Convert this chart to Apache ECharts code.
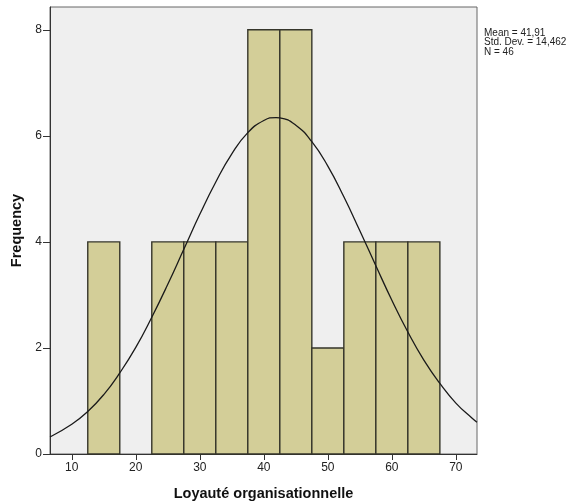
<!DOCTYPE html>
<html>
<head>
<meta charset="utf-8">
<script src="https://cdn.jsdelivr.net/npm/echarts@6/dist/echarts.min.js"></script>
<style>html,body{margin:0;padding:0;background:#fff;}#c{width:576px;height:504px;}</style>
</head>
<body>
<div id="c"></div>
<script>
// Histogram bins: [start, end]
const binStarts = [12.5, 22.5, 27.5, 32.5, 37.5, 42.5, 47.5, 52.5, 57.5, 62.5];
const binEnds   = [17.5, 27.5, 32.5, 37.5, 42.5, 47.5, 52.5, 57.5, 62.5, 67.5];
const counts    = [4, 4, 4, 4, 8, 8, 2, 4, 4, 4];
// Normal curve
const curveX = [6.6, 10, 12.5, 15, 17.5, 20, 22.5, 25, 27.5, 30, 32.5, 35, 37.5, 40, 41.91, 42.5, 45, 47.5, 50, 52.5, 55, 57.5, 60, 62.5, 65, 67.5, 70, 72.5, 73.3];
const curveY = [0.32, 0.56, 0.80, 1.12, 1.53, 2.01, 2.58, 3.20, 3.86, 4.52, 5.13, 5.66, 6.06, 6.29, 6.345, 6.34, 6.20, 5.89, 5.43, 4.85, 4.21, 3.55, 2.90, 2.30, 1.77, 1.33, 0.96, 0.68, 0.60];
const xTicks = [10, 20, 30, 40, 50, 60, 70];
const yTicks = [0, 2, 4, 6, 8];
const statsLines = ['Mean = 41,91', 'Std. Dev. = 14,462', 'N = 46'];

const chart = echarts.init(document.getElementById('c'), null, {renderer: 'canvas'});
const font = 'Liberation Sans, Arial, sans-serif';
const barData = binStarts.map((s, i) => [s, binEnds[i], counts[i]]);
const lineData = curveX.map((x, i) => [x, curveY[i]]);

chart.setOption({
  animation: false,
  backgroundColor: '#ffffff',
  grid: {left: 50, right: 99, top: 7, bottom: 50, containLabel: false, outerBoundsMode: 'none',
         show: true, backgroundColor: '#efefef', borderColor: '#666', borderWidth: 1},
  xAxis: {
    type: 'value', min: 6.6, max: 73.3,
    name: 'Loyauté organisationnelle', nameLocation: 'middle', nameGap: 32,
    nameTextStyle: {fontFamily: font, fontSize: 14.5, fontWeight: 'bold', color: '#111'},
    axisLine: {show: true, lineStyle: {color: '#333', width: 1}},
    axisTick: {show: true, length: 6, customValues: xTicks, lineStyle: {color: '#333'}},
    axisLabel: {customValues: xTicks, fontFamily: font, fontSize: 12, color: '#222', margin: 8},
    splitLine: {show: false}
  },
  yAxis: {
    type: 'value', min: 0, max: 8.43,
    name: 'Frequency', nameLocation: 'middle', nameGap: 25, nameRotate: 90,
    nameTextStyle: {fontFamily: font, fontSize: 14.5, fontWeight: 'bold', color: '#111'},
    axisLine: {show: true, lineStyle: {color: '#333', width: 1}},
    axisTick: {show: true, length: 7, customValues: yTicks, lineStyle: {color: '#333'}},
    axisLabel: {customValues: yTicks, fontFamily: font, fontSize: 12, color: '#222', margin: 8},
    splitLine: {show: false}
  },
  graphic: statsLines.map((t, i) => ({
    type: 'text', left: 484, top: 28 + i * 9.5,
    style: {text: t, font: '10px ' + font, fill: '#222'}
  })),
  series: [
    {
      type: 'custom',
      data: barData,
      renderItem: function (params, api) {
        const p0 = api.coord([api.value(0), api.value(2)]);
        const p1 = api.coord([api.value(1), 0]);
        return {
          type: 'rect',
          shape: {x: p0[0], y: p0[1], width: p1[0] - p0[0], height: p1[1] - p0[1]},
          style: {fill: '#d3ce98', stroke: '#35352a', lineWidth: 1.4}
        };
      },
      encode: {x: [0, 1], y: 2}
    },
    {
      type: 'line', data: lineData, smooth: true, symbol: 'none',
      lineStyle: {color: '#1a1a1a', width: 1.3}, z: 5
    }
  ]
});
</script>
</body>
</html>
